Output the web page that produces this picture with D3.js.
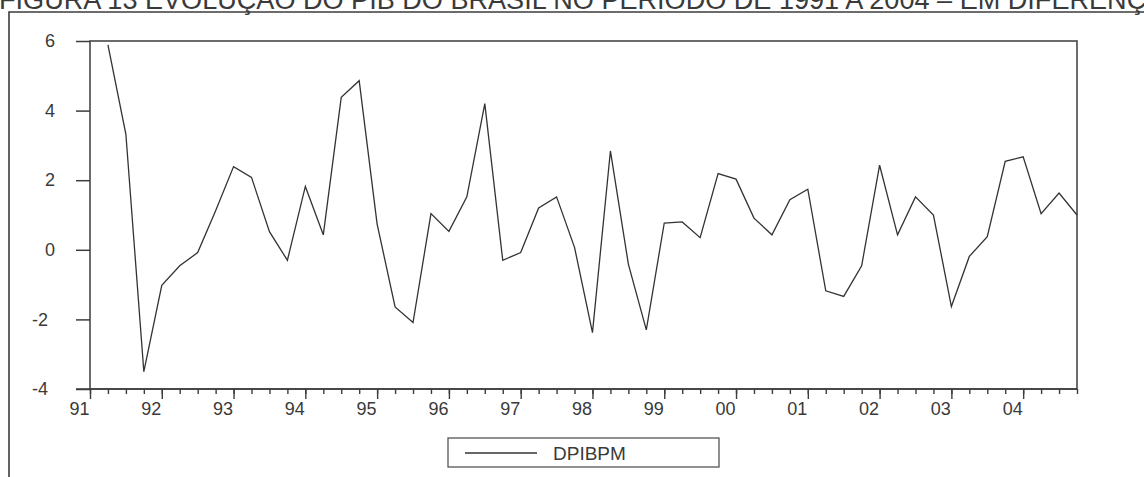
<!DOCTYPE html>
<html>
<head>
<meta charset="utf-8">
<script src="https://cdn.jsdelivr.net/npm/d3@7"></script>
<style>
  html, body { margin: 0; padding: 0; background: #fff; }
  svg { display: block; }
  text { font-family: "Liberation Sans", Arial, sans-serif; fill: #3a3a3a; }
</style>
</head>
<body>
<svg id="chart" width="1144" height="477"></svg>
<script>
// Quarterly series DPIBPM, 1991Q2 – 2004Q4
const quarters = [
  "1991Q2","1991Q3","1991Q4",
  "1992Q1","1992Q2","1992Q3","1992Q4",
  "1993Q1","1993Q2","1993Q3","1993Q4",
  "1994Q1","1994Q2","1994Q3","1994Q4",
  "1995Q1","1995Q2","1995Q3","1995Q4",
  "1996Q1","1996Q2","1996Q3","1996Q4",
  "1997Q1","1997Q2","1997Q3","1997Q4",
  "1998Q1","1998Q2","1998Q3","1998Q4",
  "1999Q1","1999Q2","1999Q3","1999Q4",
  "2000Q1","2000Q2","2000Q3","2000Q4",
  "2001Q1","2001Q2","2001Q3","2001Q4",
  "2002Q1","2002Q2","2002Q3","2002Q4",
  "2003Q1","2003Q2","2003Q3","2003Q4",
  "2004Q1","2004Q2","2004Q3","2004Q4"
];
const dpibpm = [
  5.89, 3.32, -3.50,
  -1.02, -0.46, -0.08, 1.12,
  2.39, 2.08, 0.52, -0.30,
  1.82, 0.43, 4.38, 4.86,
  0.74, -1.64, -2.09, 1.04,
  0.53, 1.52, 4.20, -0.30,
  -0.08, 1.20, 1.52, 0.07,
  -2.38, 2.84, -0.41, -2.30,
  0.77, 0.80, 0.35, 2.19,
  2.03, 0.91, 0.43, 1.44,
  1.74, -1.18, -1.34, -0.46,
  2.43, 0.43, 1.52, 1.00,
  -1.63, -0.19, 0.38, 2.54,
  2.67, 1.04, 1.63, 1.00
];
const yearTicks = [1991,1992,1993,1994,1995,1996,1997,1998,1999,2000,2001,2002,2003,2004];
const yearLabels = ["91","92","93","94","95","96","97","98","99","00","01","02","03","04"];
const valueTicks = [-4, -2, 0, 2, 4, 6];
const seriesName = "DPIBPM";
const titleText = "FIGURA 13 EVOLUÇÃO DO PIB DO BRASIL NO PERÍODO DE 1991 A 2004 – EM DIFERENÇAS";

const svg = d3.select("#chart");
const ink = "#3c3c3c";

// quarter "YYYYQn" -> fractional year at the start of the quarter
const toTime = q => +q.slice(0, 4) + (+q.slice(5) - 1) / 4;
const data = quarters.map((q, i) => ({ t: toTime(q), v: dpibpm[i] }));

const plot = { left: 90, right: 1077, top: 41, bottom: 389 };
const x = d3.scaleLinear().domain([1991, 2004.75]).range([plot.left, plot.right]);
const y = d3.scaleLinear().domain([-4, 6]).range([plot.bottom, plot.top]);

// Title: large heading that runs past the top and right edges of the page
const title = svg.append("text")
  .attr("x", -1).attr("y", 9)
  .style("font-size", "22px")
  .text(titleText);
// size it so that "...EM DIFEREN" spans the page width
const probe = svg.append("text").style("font-size", "22px")
  .text(titleText.slice(0, titleText.indexOf("Ç", 60)));
const probeW = probe.node().getComputedTextLength();
probe.remove();
title.style("font-size", (22 * 1128 / probeW).toFixed(2) + "px");

// Outer page frame (top and left rules)
svg.append("path")
  .attr("d", "M9,477 V12 H1144")
  .attr("fill", "none").attr("stroke", ink).attr("stroke-width", 1.6);

// Plot frame
svg.append("rect")
  .attr("x", plot.left).attr("y", plot.top)
  .attr("width", plot.right - plot.left).attr("height", plot.bottom - plot.top)
  .attr("fill", "none").attr("stroke", ink).attr("stroke-width", 1.5);

// Y axis: outward ticks on the left
const yAxis = d3.axisLeft(y).tickValues(valueTicks).tickSize(14).tickPadding(21)
  .tickFormat(d => String(d));
const gy = svg.append("g").attr("transform", `translate(${plot.left},0)`).call(yAxis);
gy.select(".domain").remove();
gy.selectAll(".tick line").attr("stroke", ink).attr("stroke-width", 1.5);
gy.selectAll(".tick text")
  .attr("fill", ink)
  .style("font-size", "18px")
  .attr("dx", d => d < 0 ? -7 : 0);

// X axis: quarter minor ticks, year major ticks
const quarterTicks = d3.range(0, (2004.75 - 1991) * 4 + 1).map(i => 1991 + i / 4);
const gxMinor = svg.append("g").attr("transform", `translate(0,${plot.bottom})`)
  .call(d3.axisBottom(x).tickValues(quarterTicks).tickSize(5).tickFormat(""));
gxMinor.select(".domain").remove();
gxMinor.selectAll(".tick line").attr("stroke", ink).attr("stroke-width", 1.4);

const gx = svg.append("g").attr("transform", `translate(0,${plot.bottom})`)
  .call(d3.axisBottom(x).tickValues(yearTicks).tickSize(10)
    .tickFormat((d, i) => yearLabels[i]));
gx.select(".domain").remove();
gx.selectAll(".tick line").attr("stroke", ink).attr("stroke-width", 1.4);
gx.selectAll(".tick text")
  .attr("fill", ink)
  .style("font-size", "18px")
  .attr("text-anchor", "end")
  .attr("dx", -1)
  .attr("dy", "0.71em")
  .attr("y", 13);

// Extend the bottom axis rule leftward to meet the y ticks
svg.append("line")
  .attr("x1", plot.left - 14).attr("x2", plot.right)
  .attr("y1", plot.bottom).attr("y2", plot.bottom)
  .attr("stroke", ink).attr("stroke-width", 1.5);

// Series line
svg.append("path")
  .datum(data)
  .attr("fill", "none")
  .attr("stroke", "#333")
  .attr("stroke-width", 1.3)
  .attr("stroke-linejoin", "miter")
  .attr("d", d3.line().x(d => x(d.t)).y(d => y(d.v)));

// Legend
const legend = svg.append("g");
legend.append("rect")
  .attr("x", 448).attr("y", 438).attr("width", 271).attr("height", 29)
  .attr("fill", "none").attr("stroke", "#555").attr("stroke-width", 1.3);
legend.append("line")
  .attr("x1", 465).attr("x2", 537).attr("y1", 453).attr("y2", 453)
  .attr("stroke", "#333").attr("stroke-width", 1.3);
legend.append("text")
  .attr("x", 553).attr("y", 460)
  .style("font-size", "19px")
  .attr("fill", ink)
  .text(seriesName);
</script>
</body>
</html>
